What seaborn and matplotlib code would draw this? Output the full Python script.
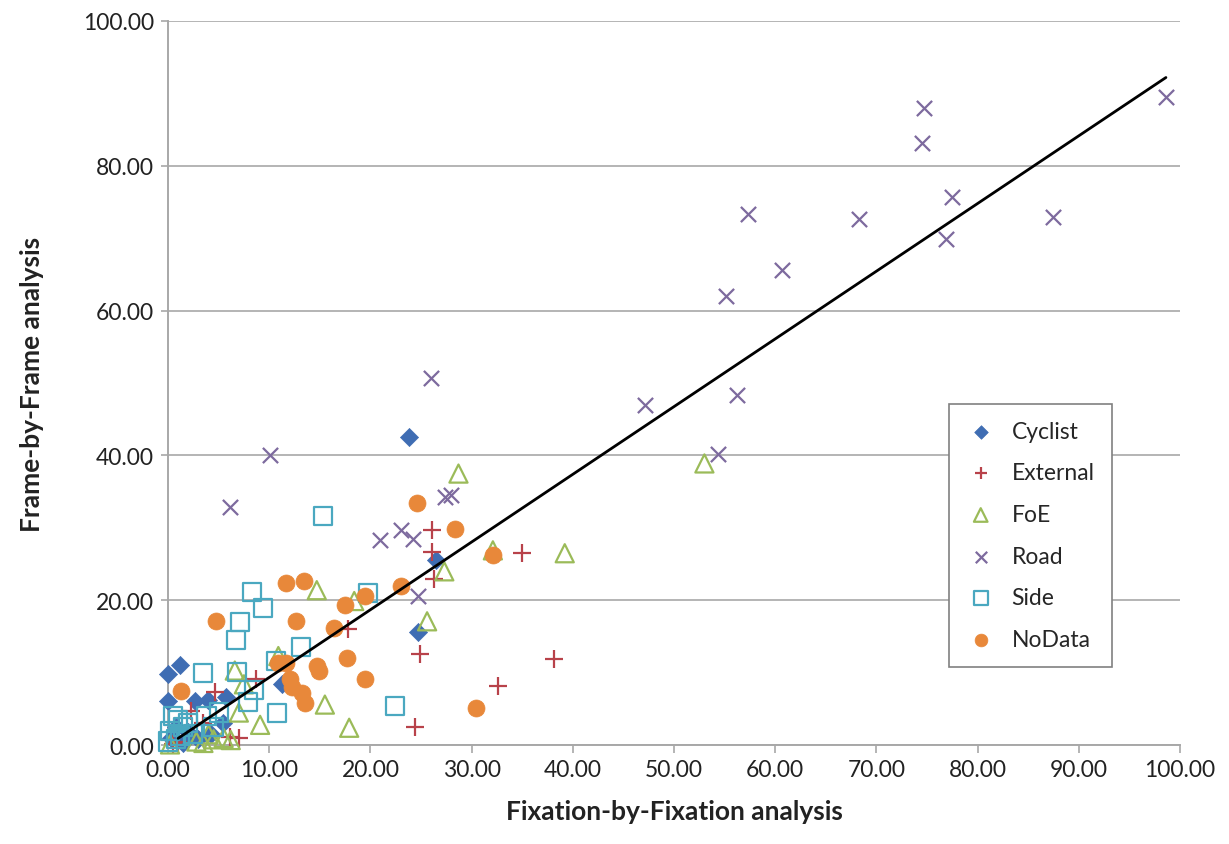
import numpy as np
import pandas as pd
import matplotlib
matplotlib.use("Agg")
import matplotlib.pyplot as plt
import seaborn as sns

# values (Fixation-by-Fixation, Frame-by-Frame)
cyclist_x = [23.8, 26.5, 24.7, 11.3, 0.0, 1.2, 0.0, 2.7, 4.0, 5.7, 5.4, 0.3, 1.5, 3.0, 4.2, 0.8, 2.0]
cyclist_y = [42.5, 25.6, 15.6, 8.4, 9.8, 11.0, 6.1, 6.1, 6.3, 6.7, 3.0, 1.0, 0.3, 0.8, 1.5, 2.5, 1.8]

external_x = [26.1, 26.1, 26.3, 35.0, 17.8, 24.9, 38.1, 32.6, 24.4, 4.6, 8.7, 2.3, 6.1, 1.0, 3.5, 0.5, 7.0]
external_y = [29.7, 26.7, 22.9, 26.5, 16.0, 12.6, 11.9, 8.1, 2.5, 7.3, 9.2, 4.7, 1.1, 0.5, 3.0, 0.2, 1.0]

foe_x = [28.7, 53.0, 32.1, 39.2, 27.3, 18.4, 14.7, 25.6, 10.9, 6.6, 7.5, 7.0, 15.5, 9.1, 17.9,
         3.5, 4.5, 5.5, 6.2, 4.0, 2.8, 0.2]
foe_y = [37.5, 38.9, 26.9, 26.5, 24.0, 19.9, 21.4, 17.1, 12.3, 10.3, 8.4, 4.5, 5.6, 2.8, 2.4,
         0.3, 0.8, 1.0, 0.7, 1.5, 0.5, 0.1]

road_x = [98.6, 74.7, 74.5, 77.5, 57.3, 68.3, 87.4, 76.9, 60.7, 55.1, 56.2, 47.1, 54.3,
          26.0, 10.1, 6.1, 27.4, 28.0, 20.9, 23.0, 24.2, 24.7]
road_y = [89.5, 88.0, 83.2, 75.7, 73.4, 72.6, 72.9, 69.9, 65.6, 62.0, 48.3, 47.0, 40.2,
          50.7, 40.1, 32.9, 34.2, 34.6, 28.3, 29.7, 28.4, 20.6]

side_x = [15.3, 8.3, 19.8, 9.4, 7.1, 6.7, 13.1, 3.5, 6.8, 10.7, 8.5, 7.9, 10.8, 22.4,
          0.2, 0.5, 1.0, 1.5, 2.0, 0.8, 2.5, 1.2, 0.0, 3.8, 5.0, 4.5]
side_y = [31.6, 21.1, 21.0, 18.9, 17.0, 14.5, 13.5, 10.0, 10.1, 11.6, 7.6, 5.9, 4.4, 5.4,
          2.0, 4.0, 3.5, 2.5, 3.0, 0.8, 1.5, 1.2, 0.5, 4.0, 4.5, 2.5]

nodata_x = [24.6, 28.4, 32.1, 23.0, 19.5, 17.5, 11.7, 13.4, 4.7, 12.6, 16.4, 17.7, 19.5,
            30.4, 10.9, 11.7, 14.7, 14.9, 12.1, 12.3, 13.2, 13.5, 1.3]
nodata_y = [33.4, 29.9, 26.2, 22.0, 20.6, 19.4, 22.4, 22.7, 17.1, 17.2, 16.2, 12.0, 9.1,
            5.1, 11.3, 11.3, 10.9, 10.2, 9.1, 8.0, 7.2, 5.8, 7.5]

# trend line: y = slope * x over the data range
TREND_SLOPE = 0.935
TREND_INTERCEPT = 0.0

groups = ["Cyclist", "External", "FoE", "Road", "Side", "NoData"]
xs = [cyclist_x, external_x, foe_x, road_x, side_x, nodata_x]
ys = [cyclist_y, external_y, foe_y, road_y, side_y, nodata_y]
colors = ["#3f6db3", "#b8424a", "#9bbb59", "#7d6a9e", "#4aa8c0", "#e8883a"]
markers = ["D", "+", "^", "x", "s", "o"]
sizes = [85, 150, 170, 120, 170, 150]
filled = [True, False, False, False, False, True]

sns.set_theme(style="white")
plt.rcParams["font.family"] = ["Lato", "DejaVu Sans"]

fig = plt.figure(figsize=(12.29, 8.45), dpi=100)
ax = fig.add_axes([0.1367, 0.117, 0.8235, 0.857])

for g, x, y, c, m, s, f in zip(groups, xs, ys, colors, markers, sizes, filled):
    d = pd.DataFrame({"x": x, "y": y})
    if f:
        sns.scatterplot(data=d, x="x", y="y", ax=ax, color=c, marker=m, s=s,
                        edgecolor=c, linewidth=0.5, label=g, clip_on=False, zorder=3)
    elif m in ("+", "x"):
        sns.scatterplot(data=d, x="x", y="y", ax=ax, color=c, marker=m, s=s,
                        linewidth=1.6, label=g, clip_on=False, zorder=3)
    else:
        sns.scatterplot(data=d, x="x", y="y", ax=ax, marker=m, s=s,
                        facecolor="none", edgecolor=c, linewidth=1.6, label=g,
                        clip_on=False, zorder=3)

all_x = np.concatenate([np.asarray(v, float) for v in xs])
tx = np.array([1.0, all_x.max()])
sns.lineplot(x=tx, y=TREND_SLOPE * tx + TREND_INTERCEPT, ax=ax, color="black",
             linewidth=2.0, zorder=4, legend=False)

ax.set_xlim(0, 100)
ax.set_ylim(0, 100)
ax.set_xticks(np.arange(0, 101, 10))
ax.set_yticks(np.arange(0, 101, 20))
ax.xaxis.set_major_formatter(matplotlib.ticker.FormatStrFormatter("%.2f"))
ax.yaxis.set_major_formatter(matplotlib.ticker.FormatStrFormatter("%.2f"))
ax.yaxis.grid(True, color="#b4b4b4", linewidth=1.4)
ax.xaxis.grid(False)
ax.set_axisbelow(True)
for sp in ["top", "right"]:
    ax.spines[sp].set_visible(False)
for sp in ["left", "bottom"]:
    ax.spines[sp].set_color("#a8a8a8")
    ax.spines[sp].set_linewidth(1.4)
ax.tick_params(axis="x", bottom=True, length=6, width=1.2, color="#a8a8a8",
               labelsize=16.5, pad=4, labelcolor="#222222")
ax.tick_params(axis="y", left=True, length=5, width=1.2, color="#a8a8a8",
               labelsize=16.5, pad=5, labelcolor="#222222")

ax.set_xlabel("Fixation-by-Fixation analysis", fontsize=19, fontweight="bold",
              labelpad=14, color="#222222")
ax.set_ylabel("Frame-by-Frame analysis", fontsize=19, fontweight="bold",
              labelpad=28, color="#222222")

leg = ax.legend(loc="lower left", bbox_to_anchor=(0.760, 0.092), fontsize=16.5,
                frameon=True, fancybox=False, edgecolor="#808080", framealpha=1,
                borderpad=0.75, labelspacing=0.9, handletextpad=0.7,
                markerscale=0.75, handlelength=1.3)
leg.get_frame().set_linewidth(1.2)

fig.savefig("out.png", dpi=100)
